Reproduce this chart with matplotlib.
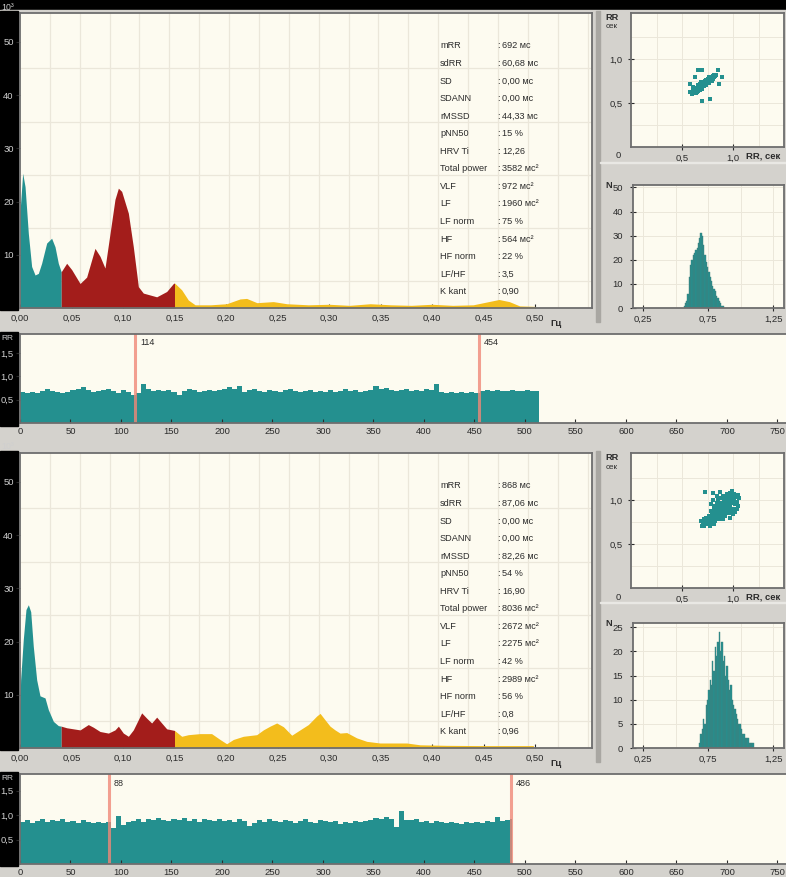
import numpy as np
import matplotlib.pyplot as plt

W, H = 786, 877

# ---------------- data ----------------
# spectral density, x = frequency (Hz), y = power (axis units)
spec1_freq = [0.000, 0.0026, 0.0049, 0.0081, 0.0113, 0.0146, 0.0178, 0.0210, 0.0259, 0.0307,
              0.0340, 0.0372, 0.0400, 0.0453, 0.0502, 0.0583, 0.0647, 0.0728, 0.0777, 0.0825,
              0.0874, 0.0922, 0.0955, 0.0987, 0.1052, 0.1100, 0.1149, 0.1197, 0.1327, 0.1424,
              0.1489, 0.1500, 0.157, 0.1634, 0.170, 0.185, 0.2006, 0.2136, 0.220, 0.230,
              0.2459, 0.259, 0.28, 0.30, 0.32, 0.34, 0.36, 0.38, 0.40, 0.42,
              0.44, 0.455, 0.465, 0.475, 0.485, 0.500]
spec1_power = [18.0, 25.3, 22.8, 14.0, 7.8, 6.2, 6.5, 8.4, 12.2, 13.1,
               11.5, 8.4, 6.8, 8.4, 7.2, 4.6, 5.8, 11.2, 9.7, 7.5,
               14.0, 20.4, 22.5, 21.9, 17.8, 11.5, 4.0, 2.8, 2.1, 3.1,
               4.6, 4.7, 3.4, 1.5, 0.6, 0.6, 0.8, 1.7, 1.8, 1.0,
               1.2, 0.8, 0.6, 0.7, 0.5, 0.8, 0.6, 0.5, 0.7, 0.5,
               0.6, 1.2, 1.6, 1.2, 0.4, 0.3]

spec2_freq = [0.000, 0.0006, 0.0032, 0.0058, 0.0081, 0.0104, 0.0129, 0.0162, 0.0194, 0.0243,
              0.0275, 0.0324, 0.0372, 0.0400, 0.0453, 0.0518, 0.0583, 0.0663, 0.0712, 0.0777,
              0.0858, 0.0922, 0.0955, 0.1003, 0.1052, 0.1100, 0.1133, 0.1181, 0.1230, 0.1278,
              0.1327, 0.1375, 0.1424, 0.1500, 0.157, 0.1634, 0.1747, 0.186, 0.1942, 0.2006,
              0.2071, 0.2168, 0.2298, 0.2362, 0.2427, 0.2492, 0.2557, 0.2638, 0.2718, 0.2799,
              0.2880, 0.2913, 0.2961, 0.3010, 0.3058, 0.3107, 0.3172, 0.3269, 0.3366, 0.3495,
              0.3625, 0.3754, 0.3883, 0.4142, 0.4466, 0.4984]
spec2_power = [8.0, 12.8, 20.4, 26.0, 26.9, 25.6, 19.1, 12.8, 9.8, 9.4,
               7.2, 5.0, 4.2, 4.1, 3.8, 3.6, 3.4, 4.4, 3.9, 3.1,
               2.8, 3.4, 4.1, 2.8, 2.2, 3.4, 4.7, 6.6, 5.6, 4.7,
               5.8, 4.7, 3.6, 3.3, 2.2, 2.5, 2.7, 2.7, 1.6, 0.8,
               1.6, 2.2, 2.5, 3.4, 4.1, 4.7, 4.0, 2.4, 3.4, 4.4,
               6.0, 6.5, 5.3, 4.1, 3.4, 2.8, 2.9, 1.9, 1.25, 0.94,
               0.94, 0.94, 0.6, 0.5, 0.45, 0.45]

band_edges = [0.0, 0.04, 0.15, 0.5]
band_colors = ['#24908f', '#a31d1b', '#f3bd1c']

stat_names = ['mRR', 'sdRR', 'SD', 'SDANN', 'rMSSD', 'pNN50', 'HRV Ti', 'Total power',
              'VLF', 'LF', 'LF norm', 'HF', 'HF norm', 'LF/HF', 'K kant']
stats1 = ['692 мс', '60,68 мс', '0,00 мс', '0,00 мс', '44,33 мс', '15 %', '12,26', '3582 мс²',
          '972 мс²', '1960 мс²', '75 %', '564 мс²', '22 %', '3,5', '0,90']
stats2 = ['868 мс', '87,06 мс', '0,00 мс', '0,00 мс', '82,26 мс', '54 %', '16,90', '8036 мс²',
          '2672 мс²', '2275 мс²', '42 %', '2989 мс²', '56 %', '0,8', '0,96']

# rhythmogram: RR (s), one value per group of 5 beats
tacho_group = 5
tacho1_beats = 514
tacho1_rr = [0.66, 0.64, 0.67, 0.65, 0.68, 0.74, 0.69, 0.66, 0.64, 0.67,
             0.70, 0.73, 0.77, 0.70, 0.66, 0.68, 0.71, 0.74, 0.68, 0.65,
             0.71, 0.67, 0.60, 0.64, 0.83, 0.72, 0.69, 0.71, 0.68, 0.70,
             0.66, 0.60, 0.69, 0.72, 0.70, 0.67, 0.68, 0.71, 0.69, 0.70,
             0.73, 0.78, 0.72, 0.80, 0.66, 0.70, 0.72, 0.69, 0.67, 0.71,
             0.69, 0.67, 0.70, 0.72, 0.68, 0.66, 0.69, 0.71, 0.67, 0.68,
             0.66, 0.70, 0.67, 0.69, 0.72, 0.68, 0.70, 0.66, 0.68, 0.71,
             0.80, 0.72, 0.76, 0.70, 0.68, 0.71, 0.73, 0.68, 0.70, 0.69,
             0.72, 0.70, 0.84, 0.66, 0.64, 0.67, 0.65, 0.66, 0.64, 0.67,
             0.65, 0.68, 0.70, 0.69, 0.70, 0.68, 0.69, 0.70, 0.69, 0.68,
             0.70, 0.69, 0.68]
tacho1_marks = [114, 454]

tacho2_beats = 487
tacho2_rr = [0.86, 0.90, 0.84, 0.88, 0.92, 0.85, 0.89, 0.87, 0.91, 0.86,
             0.88, 0.84, 0.90, 0.86, 0.83, 0.85, 0.84, 0.86, 0.74, 0.98,
             0.80, 0.86, 0.88, 0.91, 0.86, 0.93, 0.89, 0.95, 0.90, 0.87,
             0.92, 0.89, 0.94, 0.88, 0.91, 0.86, 0.93, 0.89, 0.87, 0.92,
             0.88, 0.90, 0.85, 0.91, 0.87, 0.78, 0.84, 0.89, 0.86, 0.92,
             0.88, 0.85, 0.90, 0.87, 0.83, 0.88, 0.91, 0.86, 0.84, 0.89,
             0.87, 0.85, 0.88, 0.82, 0.86, 0.84, 0.87, 0.85, 0.88, 0.90,
             0.95, 0.93, 0.97, 0.92, 0.76, 1.08, 0.90, 0.89, 0.91, 0.86,
             0.88, 0.84, 0.87, 0.85, 0.83, 0.86, 0.84, 0.82, 0.85, 0.83,
             0.86, 0.84, 0.87, 0.85, 0.96, 0.88, 0.90, 0.92]
tacho2_marks = [88, 486]

# scatterograms (RR n, RR n+1), seconds
scat1_x = [0.62, 0.63, 0.64, 0.65, 0.65, 0.66, 0.66, 0.67, 0.67, 0.68, 0.68, 0.69, 0.69, 0.70,
           0.70, 0.71, 0.71, 0.72, 0.72, 0.73, 0.73, 0.74, 0.74, 0.75, 0.75, 0.76, 0.77, 0.77,
           0.78, 0.79, 0.80, 0.80, 0.81, 0.82, 0.83, 0.64, 0.61, 0.68, 0.66, 0.70, 0.69, 0.74,
           0.76, 0.79, 0.60, 0.58, 0.66, 0.70, 0.85, 0.89, 0.77, 0.70, 0.61, 0.58, 0.86, 0.63,
           0.63, 0.65, 0.67, 0.69, 0.71, 0.73, 0.75, 0.77, 0.79, 0.81, 0.68, 0.72, 0.76, 0.80]
scat1_y = [0.63, 0.62, 0.65, 0.63, 0.66, 0.64, 0.68, 0.66, 0.69, 0.67, 0.70, 0.68, 0.71, 0.69,
           0.72, 0.70, 0.73, 0.71, 0.74, 0.72, 0.75, 0.73, 0.76, 0.74, 0.77, 0.75, 0.76, 0.78,
           0.77, 0.78, 0.79, 0.81, 0.80, 0.81, 0.82, 0.61, 0.64, 0.65, 0.70, 0.66, 0.74, 0.70,
           0.79, 0.75, 0.60, 0.62, 0.87, 0.87, 0.88, 0.80, 0.54, 0.52, 0.68, 0.72, 0.72, 0.80,
           0.65, 0.67, 0.67, 0.69, 0.71, 0.73, 0.75, 0.79, 0.80, 0.82, 0.72, 0.69, 0.73, 0.77]

scat2_x = [0.70, 0.72, 0.71, 0.74, 0.73, 0.76, 0.75, 0.78, 0.77, 0.80, 0.72, 0.79, 0.80, 0.82,
           0.79, 0.83, 0.85, 0.81, 0.84, 0.86, 0.88, 0.83, 0.86, 0.88, 0.90, 0.85, 0.88, 0.91,
           0.93, 0.87, 0.90, 0.92, 0.95, 0.89, 0.92, 0.94, 0.97, 0.91, 0.94, 0.96, 0.99, 0.93,
           0.96, 0.98, 1.01, 0.95, 0.98, 1.00, 1.03, 0.97, 1.01, 0.76, 0.82, 0.78, 0.86, 0.82,
           0.92, 0.84, 0.96, 0.88, 1.00, 0.85, 1.02, 0.74, 0.81, 0.90, 1.04, 0.73, 0.80, 1.05,
           0.77, 0.69, 0.87, 0.99, 1.06, 1.04, 1.02, 0.98, 0.78, 0.80, 0.84, 0.94, 1.00, 1.05,
           0.97, 0.90, 0.83, 0.87, 0.91, 0.95, 0.99, 0.89, 0.93, 0.97, 0.81, 0.86]
scat2_y = [0.71, 0.70, 0.74, 0.73, 0.76, 0.75, 0.78, 0.77, 0.80, 0.79, 0.78, 0.74, 0.82, 0.80,
           0.84, 0.83, 0.81, 0.86, 0.86, 0.84, 0.83, 0.89, 0.88, 0.87, 0.86, 0.91, 0.90, 0.89,
           0.88, 0.94, 0.93, 0.92, 0.91, 0.97, 0.96, 0.95, 0.94, 1.00, 0.99, 0.98, 0.97, 1.03,
           1.02, 1.01, 1.00, 1.06, 1.05, 1.04, 1.03, 1.08, 1.07, 0.82, 0.76, 0.88, 0.78, 0.93,
           0.82, 0.97, 0.85, 1.02, 0.90, 1.00, 0.95, 0.80, 0.73, 1.05, 0.98, 1.09, 1.08, 1.06,
           0.70, 0.76, 1.09, 1.10, 1.02, 0.90, 0.86, 0.88, 0.95, 1.00, 1.04, 1.07, 0.84, 0.93,
           0.80, 0.78, 0.87, 0.92, 0.95, 0.99, 1.02, 0.82, 0.85, 0.90, 0.91, 0.96]

# RR histograms, bins of 0.01 s
hist_width = 0.01
hist1_start = 0.56
hist1_counts = [1, 2, 3, 6, 13, 18, 20, 22, 23, 24, 25, 27, 29, 31, 30, 26, 22, 19, 17, 15,
                13, 11, 9, 8, 7, 5, 4, 3, 2, 1, 1]
hist2_start = 0.68
hist2_counts = [1, 3, 4, 6, 5, 9, 10, 12, 14, 13, 18, 16, 21, 19, 22, 24, 20, 22, 18, 19,
                15, 17, 14, 12, 13, 10, 9, 8, 7, 6, 5, 5, 4, 3, 3, 2, 2, 2, 1, 1, 1, 1]

# ---------------- style ----------------
plt.rcParams['font.family'] = ['Liberation Sans', 'DejaVu Sans']
TEAL = '#24908f'
CREAM = '#fdfbf0'
PANEL = '#d4d2cd'
GRID = '#ebe7da'
SPINE = '#6e6e6e'
TXT = '#2b2b2b'
LIGHT = '#cfcfcf'
MARK = '#f08878'

fig = plt.figure(figsize=(W / 100, H / 100), dpi=100, facecolor='black')


def px_axes(x0, y0, x1, y1):
    ax = fig.add_axes([x0 / W, 1 - y1 / H, (x1 - x0) / W, (y1 - y0) / H])
    ax.set_facecolor(CREAM)
    for s in ax.spines.values():
        s.set_color(SPINE)
        s.set_linewidth(1.3)
    ax.tick_params(labelsize=6.8, colors=TXT, length=3, width=0.8)
    return ax


def px_text(x, y, s, **kw):
    kw.setdefault('fontsize', 6.8)
    kw.setdefault('color', TXT)
    fig.text(x / W, 1 - y / H, s, **kw)


def px_rect(x0, y0, x1, y1, color):
    fig.patches.append(plt.Rectangle((x0 / W, 1 - y1 / H), (x1 - x0) / W, (y1 - y0) / H,
                                     transform=fig.transFigure, color=color, zorder=-5))


def comma(v, nd):
    return f'{v:.{nd}f}'.replace('.', ',')


# window background, black bezel at top and left of the plot areas
px_rect(0, 10, W, H, PANEL)
for y0, y1 in [(11, 310), (332, 426), (451, 750), (772, 866)]:
    px_rect(0, y0, 18, y1, 'black')
px_rect(596, 11, 600, 322, '#a9a7a2')
px_rect(596, 451, 600, 762, '#a9a7a2')
px_rect(600, 162, W, 163, '#e9e8e4')
px_rect(600, 602, W, 603, '#e9e8e4')


def draw_spectrum(top, freq, power, stats):
    ax = px_axes(20, top, 592, top + 295)
    f = np.array(freq)
    p = np.array(power)
    for lo, hi, c in zip(band_edges[:-1], band_edges[1:], band_colors):
        m = (f >= lo) & (f <= hi)
        ax.fill_between(f[m], 0, p[m], color=c, lw=0, zorder=2)
    ax.set_xlim(0, 0.5553)
    ax.set_ylim(0, 55.4)
    xt = np.arange(0, 0.501, 0.05)
    ax.set_xticks(xt)
    ax.set_xticklabels([comma(v, 2) for v in xt])
    ax.set_yticks([10, 20, 30, 40, 50])
    ax.set_yticklabels(['10', '20', '30', '40', '50'], color=LIGHT)
    ax.set_xticks(np.arange(0.029, 0.555, 0.029), minor=True)
    ax.set_yticks(np.arange(5, 55, 5), minor=True)
    ax.grid(which='minor', color=GRID, lw=0.9)
    ax.tick_params(which='minor', length=0)
    ax.tick_params(axis='x', direction='in', pad=4)
    ax.tick_params(axis='y', pad=1.5)
    ax.set_axisbelow(True)
    px_text(556, top + 311, 'Гц', ha='center', va='center', fontweight='bold')
    px_text(14, top - 6, '10³', ha='right', va='center', color=LIGHT, fontsize=6.3)
    for i, (name, val) in enumerate(zip(stat_names, stats)):
        y = top + 33 + i * 17.55
        px_text(440, y, name, va='center', fontsize=6.6)
        px_text(497, y, ':', va='center', fontsize=6.6)
        px_text(502, y, val, va='center', fontsize=6.6)


def draw_tacho(top, bottom, rr, beats, marks, ytop):
    ax = px_axes(20, top, 792, bottom)
    edges = np.append(np.arange(0, beats, tacho_group), beats)
    ax.stairs(rr, edges, fill=True, color=TEAL, lw=0)
    ax.set_xlim(0, (792 - 20) / 1.01)
    ax.set_ylim(0, ytop)
    xt = np.arange(0, 751, 50)
    ax.set_xticks(xt)
    ax.set_xticklabels([str(v) for v in xt])
    ax.set_yticks([0.5, 1.0, 1.5])
    ax.set_yticklabels(['0,5', '1,0', '1,5'], color=LIGHT)
    ax.tick_params(axis='x', direction='in', pad=3)
    ax.tick_params(axis='y', pad=1.5)
    for m in marks:
        ax.axvline(m, color=MARK, lw=2.2, alpha=0.8)
        ax.text(m + 5, 0.95, str(m), transform=ax.get_xaxis_transform(),
                fontsize=6.5, color=TXT, va='top')
    px_text(1, top + 5, 'RR', ha='left', va='center', color=LIGHT, fontsize=6.0)


def draw_scatter(top, bottom, xs, ys):
    ax = px_axes(631, top, 784, bottom)
    ax.plot(xs, ys, 's', color=TEAL, ms=2.5, mew=0)
    ax.set_xlim(0, 1.5)
    ax.set_ylim(0, (bottom - top) / 88.0)
    ax.set_xticks([0.5, 1.0])
    ax.set_xticklabels(['0,5', '1,0'])
    ax.set_yticks([0.5, 1.0])
    ax.set_yticklabels(['0,5', '1,0'])
    ax.set_xticks(np.arange(0.25, 1.5, 0.25), minor=True)
    ax.set_yticks(np.arange(0.25, 1.5, 0.25), minor=True)
    ax.grid(which='both', color=GRID, lw=0.7)
    ax.tick_params(which='minor', length=0)
    ax.tick_params(axis='x', direction='inout', length=4, pad=3)
    ax.tick_params(axis='y', direction='inout', length=4, pad=4)
    ax.set_axisbelow(True)
    px_text(612, top + 4, 'RR', ha='center', va='center', fontweight='bold', fontsize=6.6)
    px_text(612, top + 14, 'сек', ha='center', va='center', fontsize=5.8)
    px_text(618, bottom + 9, '0', ha='center', va='center')
    px_text(746, bottom + 9, 'RR, сек', ha='left', va='center', fontweight='bold')


def draw_hist(top, bottom, start, counts, ymax, ystep):
    ax = px_axes(633, top, 784, bottom)
    left = start + hist_width * np.arange(len(counts))
    ax.bar(left, counts, width=hist_width, align='edge', color=TEAL,
           edgecolor='#3f7f7c', lw=0.3)
    ax.set_xlim(0.171, 1.333)
    ax.set_ylim(0, ymax)
    ax.set_xticks([0.25, 0.75, 1.25])
    ax.set_xticklabels(['0,25', '0,75', '1,25'])
    yt = np.arange(0, ymax, ystep)
    ax.set_yticks(yt)
    ax.set_yticklabels([str(int(v)) for v in yt])
    ax.set_xticks([0.5, 1.0], minor=True)
    ax.grid(which='both', color=GRID, lw=0.7)
    ax.tick_params(which='minor', length=0)
    ax.tick_params(axis='x', direction='inout', length=4, pad=3)
    ax.tick_params(axis='y', direction='inout', length=4, pad=5)
    ax.set_axisbelow(True)
    px_text(609, top + 1, 'N', ha='center', va='center', fontweight='bold', fontsize=6.6)


# first recording
draw_spectrum(13, spec1_freq, spec1_power, stats1)
draw_tacho(334, 423, tacho1_rr, tacho1_beats, tacho1_marks, 1.91)
draw_scatter(13, 147, scat1_x, scat1_y)
draw_hist(185, 308, hist1_start, hist1_counts, 51, 10)

# second recording
draw_spectrum(453, spec2_freq, spec2_power, stats2)
draw_tacho(774, 864, tacho2_rr, tacho2_beats, tacho2_marks, 1.84)
draw_scatter(453, 588, scat2_x, scat2_y)
draw_hist(623, 748, hist2_start, hist2_counts, 25.9, 5)

fig.savefig('out.png', dpi=100, facecolor=fig.get_facecolor())
